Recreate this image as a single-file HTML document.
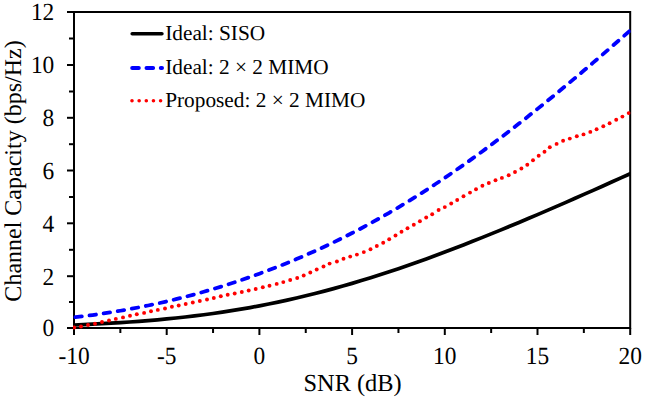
<!DOCTYPE html>
<html><head><meta charset="utf-8"><style>
html,body{margin:0;padding:0;background:#fff;}
svg{display:block;}
text{font-family:"Liberation Serif",serif;fill:#000;text-rendering:geometricPrecision;}
</style></head><body>
<svg width="645" height="400" viewBox="0 0 645 400">
<defs><clipPath id="pa"><rect x="73" y="0" width="557.6" height="400"/></clipPath></defs>
<rect width="645" height="400" fill="#fff"/>
<g stroke="#000" stroke-width="2" fill="none">
<rect x="74.00" y="12.00" width="556.20" height="316.00"/>
<line x1="67.00" y1="328.00" x2="74.00" y2="328.00"/><line x1="69.00" y1="302.00" x2="74.00" y2="302.00"/><line x1="67.00" y1="276.20" x2="74.00" y2="276.20"/><line x1="69.00" y1="249.80" x2="74.00" y2="249.80"/><line x1="67.00" y1="223.30" x2="74.00" y2="223.30"/><line x1="69.00" y1="197.00" x2="74.00" y2="197.00"/><line x1="67.00" y1="170.50" x2="74.00" y2="170.50"/><line x1="69.00" y1="144.20" x2="74.00" y2="144.20"/><line x1="67.00" y1="117.80" x2="74.00" y2="117.80"/><line x1="69.00" y1="91.50" x2="74.00" y2="91.50"/><line x1="67.00" y1="65.00" x2="74.00" y2="65.00"/><line x1="69.00" y1="38.50" x2="74.00" y2="38.50"/><line x1="67.00" y1="12.00" x2="74.00" y2="12.00"/><line x1="74.00" y1="328.00" x2="74.00" y2="335.00"/><line x1="120.35" y1="328.00" x2="120.35" y2="333.00"/><line x1="166.70" y1="328.00" x2="166.70" y2="335.00"/><line x1="213.05" y1="328.00" x2="213.05" y2="333.00"/><line x1="259.40" y1="328.00" x2="259.40" y2="335.00"/><line x1="305.75" y1="328.00" x2="305.75" y2="333.00"/><line x1="352.10" y1="328.00" x2="352.10" y2="335.00"/><line x1="398.45" y1="328.00" x2="398.45" y2="333.00"/><line x1="444.80" y1="328.00" x2="444.80" y2="335.00"/><line x1="491.15" y1="328.00" x2="491.15" y2="333.00"/><line x1="537.50" y1="328.00" x2="537.50" y2="335.00"/><line x1="583.85" y1="328.00" x2="583.85" y2="333.00"/><line x1="630.20" y1="328.00" x2="630.20" y2="335.00"/>
</g>
<g fill="none" stroke-linejoin="round" clip-path="url(#pa)">
<path d="M74.00,324.98 L83.27,324.59 L92.54,324.17 L101.81,323.70 L111.08,323.19 L120.35,322.62 L129.62,322.01 L138.89,321.33 L148.16,320.60 L157.43,319.80 L166.70,318.94 L175.97,318.00 L185.24,316.99 L194.51,315.90 L203.78,314.73 L213.05,313.48 L222.32,312.14 L231.59,310.70 L240.86,309.18 L250.13,307.56 L259.40,305.85 L268.67,304.04 L277.94,302.13 L287.21,300.12 L296.48,298.02 L305.75,295.81 L315.02,293.51 L324.29,291.12 L333.56,288.62 L342.83,286.03 L352.10,283.36 L361.37,280.59 L370.64,277.73 L379.91,274.79 L389.18,271.76 L398.45,268.66 L407.72,265.48 L416.99,262.22 L426.26,258.89 L435.53,255.50 L444.80,252.04 L454.07,248.52 L463.34,244.95 L472.61,241.31 L481.88,237.63 L491.15,233.89 L500.42,230.11 L509.69,226.29 L518.96,222.43 L528.23,218.52 L537.50,214.58 L546.77,210.61 L556.04,206.61 L565.31,202.58 L574.58,198.52 L583.85,194.43 L593.12,190.32 L602.39,186.19 L611.66,182.04 L620.93,177.88 L630.20,173.69" stroke="#000" stroke-width="3.7" stroke-linecap="round"/>
<path d="M74.00,317.37 L83.27,316.24 L92.54,315.02 L101.81,313.70 L111.08,312.28 L120.35,310.75 L129.62,309.11 L138.89,307.36 L148.16,305.50 L157.43,303.51 L166.70,301.41 L175.97,299.19 L185.24,296.84 L194.51,294.38 L203.78,291.79 L213.05,289.07 L222.32,286.24 L231.59,283.28 L240.86,280.20 L250.13,277.00 L259.40,273.67 L268.67,270.21 L277.94,266.63 L287.21,262.91 L296.48,259.07 L305.75,255.09 L315.02,250.97 L324.29,246.71 L333.56,242.31 L342.83,237.76 L352.10,233.07 L361.37,228.22 L370.64,223.23 L379.91,218.08 L389.18,212.78 L398.45,207.33 L407.72,201.73 L416.99,195.98 L426.26,190.07 L435.53,184.02 L444.80,177.83 L454.07,171.50 L463.34,165.03 L472.61,158.42 L481.88,151.69 L491.15,144.84 L500.42,137.86 L509.69,130.77 L518.96,123.57 L528.23,116.27 L537.50,108.87 L546.77,101.38 L556.04,93.79 L565.31,86.13 L574.58,78.38 L583.85,70.56 L593.12,62.67 L602.39,54.71 L611.66,46.70 L620.93,38.63 L630.20,30.50" stroke="#0000ff" stroke-width="3.8" stroke-dasharray="6.5 7.771" stroke-dashoffset="12.897" stroke-linecap="round"/>
<g fill="#ff0000" stroke="none"><circle cx="74.2" cy="327.5" r="1.95"/><circle cx="81.0" cy="326.5" r="1.95"/><circle cx="88.0" cy="325.0" r="1.95"/><circle cx="95.0" cy="323.7" r="1.95"/><circle cx="102.0" cy="322.0" r="1.95"/><circle cx="109.0" cy="320.5" r="1.95"/><circle cx="115.8" cy="318.9" r="1.95"/><circle cx="123.0" cy="317.4" r="1.95"/><circle cx="130.0" cy="315.8" r="1.95"/><circle cx="136.8" cy="314.3" r="1.95"/><circle cx="144.1" cy="312.9" r="1.95"/><circle cx="151.0" cy="311.2" r="1.95"/><circle cx="157.8" cy="309.9" r="1.95"/><circle cx="165.0" cy="308.5" r="1.95"/><circle cx="171.9" cy="306.8" r="1.95"/><circle cx="178.7" cy="305.5" r="1.95"/><circle cx="185.7" cy="304.0" r="1.95"/><circle cx="192.8" cy="302.5" r="1.95"/><circle cx="199.8" cy="301.0" r="1.95"/><circle cx="207.0" cy="299.5" r="1.95"/><circle cx="213.8" cy="298.0" r="1.95"/><circle cx="220.8" cy="296.2" r="1.95"/><circle cx="227.7" cy="294.7" r="1.95"/><circle cx="234.7" cy="293.5" r="1.95"/><circle cx="241.8" cy="292.0" r="1.95"/><circle cx="248.7" cy="290.5" r="1.95"/><circle cx="255.7" cy="289.0" r="1.95"/><circle cx="262.8" cy="287.2" r="1.95"/><circle cx="269.5" cy="285.7" r="1.95"/><circle cx="276.7" cy="283.9" r="1.95"/><circle cx="283.3" cy="282.1" r="1.95"/><circle cx="290.2" cy="280.0" r="1.95"/><circle cx="297.2" cy="278.0" r="1.95"/><circle cx="303.7" cy="275.5" r="1.95"/><circle cx="310.3" cy="272.5" r="1.95"/><circle cx="316.7" cy="269.5" r="1.95"/><circle cx="323.5" cy="266.5" r="1.95"/><circle cx="329.6" cy="263.6" r="1.95"/><circle cx="336.9" cy="261.5" r="1.95"/><circle cx="343.5" cy="258.8" r="1.95"/><circle cx="350.2" cy="256.6" r="1.95"/><circle cx="356.9" cy="254.6" r="1.95"/><circle cx="363.8" cy="252.1" r="1.95"/><circle cx="370.5" cy="249.2" r="1.95"/><circle cx="376.8" cy="246.0" r="1.95"/><circle cx="383.2" cy="242.7" r="1.95"/><circle cx="389.2" cy="239.2" r="1.95"/><circle cx="395.5" cy="235.5" r="1.95"/><circle cx="401.5" cy="231.8" r="1.95"/><circle cx="407.5" cy="228.3" r="1.95"/><circle cx="413.8" cy="224.7" r="1.95"/><circle cx="419.9" cy="221.2" r="1.95"/><circle cx="426.2" cy="217.5" r="1.95"/><circle cx="432.2" cy="214.2" r="1.95"/><circle cx="438.6" cy="210.0" r="1.95"/><circle cx="444.8" cy="207.1" r="1.95"/><circle cx="451.2" cy="203.5" r="1.95"/><circle cx="457.2" cy="200.0" r="1.95"/><circle cx="463.5" cy="196.2" r="1.95"/><circle cx="470.0" cy="192.6" r="1.95"/><circle cx="476.0" cy="189.2" r="1.95"/><circle cx="482.4" cy="185.7" r="1.95"/><circle cx="488.8" cy="183.0" r="1.95"/><circle cx="495.5" cy="180.2" r="1.95"/><circle cx="501.9" cy="177.9" r="1.95"/><circle cx="508.7" cy="175.2" r="1.95"/><circle cx="515.0" cy="172.0" r="1.95"/><circle cx="521.4" cy="168.5" r="1.95"/><circle cx="527.3" cy="164.8" r="1.95"/><circle cx="533.0" cy="160.2" r="1.95"/><circle cx="538.7" cy="155.8" r="1.95"/><circle cx="544.5" cy="151.7" r="1.95"/><circle cx="549.8" cy="147.3" r="1.95"/><circle cx="556.6" cy="143.9" r="1.95"/><circle cx="563.1" cy="140.7" r="1.95"/><circle cx="569.8" cy="138.6" r="1.95"/><circle cx="576.8" cy="136.2" r="1.95"/><circle cx="583.5" cy="134.4" r="1.95"/><circle cx="590.3" cy="131.9" r="1.95"/><circle cx="596.6" cy="129.3" r="1.95"/><circle cx="603.3" cy="126.3" r="1.95"/><circle cx="609.6" cy="123.3" r="1.95"/><circle cx="616.2" cy="119.8" r="1.95"/><circle cx="622.4" cy="116.6" r="1.95"/><circle cx="628.7" cy="113.1" r="1.95"/></g>
</g>
<g font-size="24px">
<text transform="translate(54.3,336.40) scale(0.975,1.03)" text-anchor="end">0</text><text transform="translate(54.3,284.60) scale(0.975,1.03)" text-anchor="end">2</text><text transform="translate(54.3,231.70) scale(0.975,1.03)" text-anchor="end">4</text><text transform="translate(54.3,178.90) scale(0.975,1.03)" text-anchor="end">6</text><text transform="translate(54.3,126.20) scale(0.975,1.03)" text-anchor="end">8</text><text transform="translate(54.3,73.40) scale(0.975,1.03)" text-anchor="end">10</text><text transform="translate(54.3,20.40) scale(0.975,1.03)" text-anchor="end">12</text>
<text transform="translate(74.00,364.4) scale(0.975,1.03)" text-anchor="middle">-10</text><text transform="translate(166.70,364.4) scale(0.975,1.03)" text-anchor="middle">-5</text><text transform="translate(259.40,364.4) scale(0.975,1.03)" text-anchor="middle">0</text><text transform="translate(352.10,364.4) scale(0.975,1.03)" text-anchor="middle">5</text><text transform="translate(444.80,364.4) scale(0.975,1.03)" text-anchor="middle">10</text><text transform="translate(537.50,364.4) scale(0.975,1.03)" text-anchor="middle">15</text><text transform="translate(630.20,364.4) scale(0.975,1.03)" text-anchor="middle">20</text>
<text x="352.6" y="391.3" text-anchor="middle" font-size="24.4px">SNR (dB)</text>
<text transform="translate(21.3,171) rotate(-90)" text-anchor="middle">Channel Capacity (bps/Hz)</text>
</g>
<g font-size="21.3px">
<line x1="132.2" y1="33.7" x2="161.9" y2="33.7" stroke="#000" stroke-width="3.6" stroke-linecap="round"/>
<line x1="132.2" y1="67.9" x2="162" y2="67.9" stroke="#0000ff" stroke-width="4" stroke-dasharray="6.6 7.7" stroke-linecap="round"/>
<line x1="132" y1="100.75" x2="161" y2="100.75" stroke="#ff0000" stroke-width="3.6" stroke-dasharray="0 7.15" stroke-linecap="round"/>
<text x="165.2" y="39.6">Ideal: SISO</text>
<text x="165.2" y="73.6">Ideal: 2 × 2 MIMO</text>
<text x="165.2" y="106.8">Proposed: 2 × 2 MIMO</text>
</g>
</svg>
</body></html>
